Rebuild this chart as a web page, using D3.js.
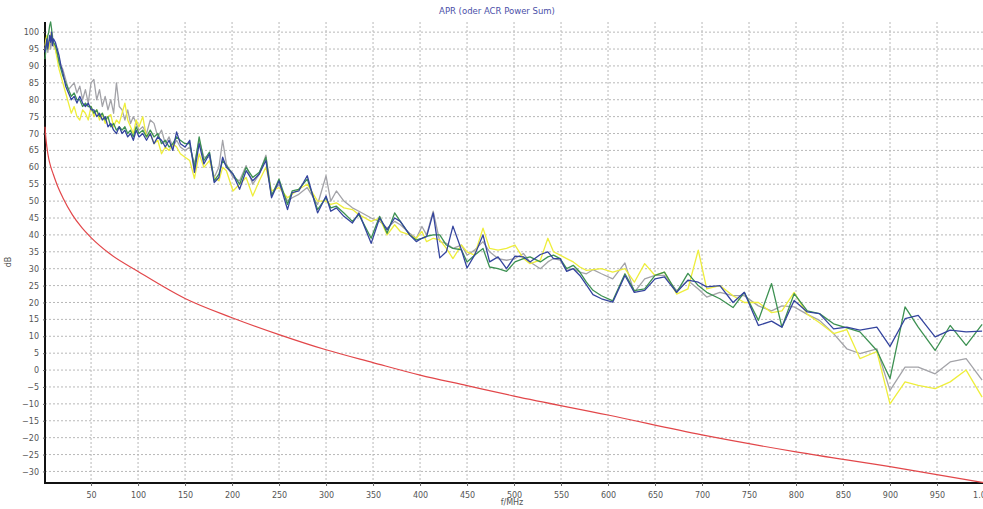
<!DOCTYPE html>
<html>
<head>
<meta charset="utf-8">
<script src="https://cdn.jsdelivr.net/npm/d3@7"></script>
<style>
  body { margin: 0; background: #fff; overflow: hidden; }
  text { font-family: "DejaVu Sans", Verdana, sans-serif; }
</style>
</head>
<body>
<svg id="chart" width="983" height="509"></svg>
<script>
// frequency points (MHz) shared by the four measured pairs
const freq = [1,2,3,4,5,6,7,8,9,10,
  12,14,16,18,20,23,26,29,32,35,38,41,44,47,50,53,56,59,62,65,68,71,74,77,80,83,86,89,92,95,98,101,
  105,109,113,117,121,125,129,133,137,141,145,150,
  155,160,165,170,176,181,186,190,194,201,208,215,222,229,236,242,250,259,264,271,
  280,291,300,305,311,319,328,335,348,357,365,373,379,389,396,402,407,414,421,428,
  435,444,450,458,467,474,483,492,501,510,517,528,536,542,549,556,563,570,577,584,
  593,605,618,628,639,650,660,673,685,696,705,719,733,745,760,774,785,798,812,825,
  840,854,868,886,900,916,930,948,964,981,998];

const grayVals = [95,97,96,94,96,98,95,97,99,96,
  95,93,92,90,89,86,83,84,85,82,84,80,83,79,85,86,80,83,78,81,77,80,76,85,78,77,74,77,73,75,73,71,
  72,70,74,73,69,71,67,69,66,68,66,65,
  66,61,68,63,63,57,60,68,61,57,56,60.5,55,58,63.6,52,55,50,51,52,
  54,49,57.5,50,53,50,48,47,45,44,42,44,43,40.5,39,42.5,40,47,38,37.5,
  36,37,34,35.5,38,35,33,32.5,33,34.5,32,30,32,33,32.5,29.5,30,29,28.5,29.7,
  28.5,27,31.7,23,27,28,28,23.5,26.5,24,21.6,23,22,22,19,17.5,19,18.7,16.5,14.7,
  10.8,6.3,4.9,6.3,-6,0.9,0.9,-1.1,2.4,3.4,-3];

const yellowVals = [96,98,99,97,95,97,99,100,98,97,
  95,92,89,87,85,82,79,76,78,75,74,77,76,74,78,75,77,74,76,73,75,75.6,72,74,73,76,79,74,72,70,74,72,
  75,69,70,67,68,64,66,65,67,66,64,63,
  62,56.7,64,60,62,57,56,60,59,53,55,57,51.5,56,60,53,54,51,52,53.5,
  55,50,50,49,49.5,48,47.5,46,44,45,40,43,41,40,39,41,38,39,38.5,36,
  33,37,35,34,42,36,35.5,36,37,33,31.5,32.5,39,35,34,33,32,30.5,29.5,29.7,
  30,29,30,26,31.5,28,29,22.5,24,35.5,24,25,22,20,20,17,17.5,23,16.5,14,
  10.8,12,3.4,5.5,-10,-3.5,-4.5,-5.5,-3.5,0,-8];

const greenVals = [92,95,97,99,100,102,103,101,98,97,
  96,94,91,89,87,85,83,81,82,80,80,78,79,78,78,76,77,75,76,74,75,72,73,71,72,71,72,70,71,69,72,70,
  71,69,71,69,70,67,68,66,67,69,68,67,
  67,60,69,62,64.5,56,58,62,60.5,58,55,60,57,58.5,63,51.5,56.5,49,53,53.5,
  56.5,47.5,51,48,48.5,46.5,44,46,39,45.5,40.5,46.5,44,40,38.5,39,39.6,40,40,37,
  36,35.6,32,34,36,30.5,30,29.2,32,33,33.5,32,33.5,34,33,30,31,29,26,23.6,
  22,20.5,28.5,23.5,24,28,29,23,28.6,25,23,21.1,18.5,23,14.7,25.6,12.7,22.6,17.5,16.7,
  13.7,12.5,11.3,5.8,-2.5,18.7,12.7,5.8,13.2,7.3,13.5];

const blueVals = [94,96,98,95,97,99,97,100,96,98,
  97,95,93,90,88,84,82,80,81,79,81,79,78,79,77,77,75,76,74,75,72,73,71,70,72,70,71,69,70,68,71,69,
  70,68,70,67,69,68,66,68,65,70.5,67,66,
  68,58.5,67,61,64,55.5,57,63,60,58,53.5,59,56,58,62,51,56,47.5,52.5,53,
  57.5,46.5,51.5,47,48,45.5,43.5,46.5,37.5,45,41.5,45,44,40,38,39,39.5,46.5,33.2,35,
  42.6,35.6,30.2,34,40,32,33.5,30,33.7,33.5,32,34.2,35,33,33,29.2,30,28,25.2,22.3,
  21.1,20.1,28,23,23.6,27,27.6,23,26.6,26,24.6,25,20,23,13.2,14.5,12.7,20.6,17.2,16.7,
  12.2,12.7,11.8,12.7,7,15.2,16.2,9.8,11.8,11.3,11.5];

// limit line
const limitFreq = [1,2,3,5,7,10,15,20,30,40,50,70,100,150,200,250,300,350,400,450,500,600,700,800,900,1000];
const limitVals = [72,68.5,66,62.5,60.3,57.8,54,51,46,42.2,39.2,34.4,29.2,21.2,15.5,10.5,6,2.2,-1.5,-4.6,-7.7,-13.3,-19.2,-24.2,-28.6,-33.3];

const xTicks = d3.range(50, 1001, 50);
const yTicks = d3.range(-30, 101, 5);

const svg = d3.select('#chart');
const x = d3.scaleLinear().domain([1, 1000]).range([45, 984]);
const y = d3.scaleLinear().domain([-33.3, 103]).range([482.6, 22]);

// grid
svg.append('g')
  .selectAll('line')
  .data(yTicks)
  .join('line')
  .attr('x1', 45).attr('x2', 983)
  .attr('y1', d => y(d)).attr('y2', d => y(d))
  .attr('stroke', '#b8b8b8')
  .attr('stroke-dasharray', '2,2');

svg.append('g')
  .selectAll('line')
  .data(xTicks)
  .join('line')
  .attr('x1', d => x(d)).attr('x2', d => x(d))
  .attr('y1', 22).attr('y2', 482)
  .attr('stroke', '#b8b8b8')
  .attr('stroke-dasharray', '2,2');

// axes
const xAxis = svg.append('g')
  .attr('transform', 'translate(0,483)')
  .call(d3.axisBottom(x).tickValues(xTicks).tickSize(3).tickPadding(6)
    .tickFormat(d => d === 1000 ? '1.000' : d));
xAxis.select('.domain').attr('stroke', '#111').attr('stroke-width', 2)
  .attr('d', 'M45,0H983');
xAxis.selectAll('.tick line').attr('stroke', '#666');
xAxis.selectAll('text').attr('fill', '#555').style('font-size', '8px');

const yAxis = svg.append('g')
  .attr('transform', 'translate(45,0)')
  .call(d3.axisLeft(y).tickValues(yTicks).tickSize(2).tickPadding(4));
yAxis.select('.domain').attr('stroke', '#111').attr('stroke-width', 2)
  .attr('d', 'M0,22V484');
yAxis.selectAll('.tick line').attr('stroke', '#666');
yAxis.selectAll('text').attr('fill', '#555').style('font-size', '8px');

// series
const line = d3.line()
  .x((d, i) => x(freq[i]))
  .y(d => y(d));

const series = [
  {vals: grayVals, color: '#a3a3a8'},
  {vals: yellowVals, color: '#eeee3c'},
  {vals: greenVals, color: '#3d9152'},
  {vals: blueVals, color: '#34449e'}
];

svg.append('g')
  .selectAll('path')
  .data(series)
  .join('path')
  .attr('d', s => line(s.vals))
  .attr('fill', 'none')
  .attr('stroke', s => s.color)
  .attr('stroke-width', 1.3)
  .attr('stroke-linejoin', 'round');

const limitLine = d3.line()
  .x((d, i) => x(limitFreq[i]))
  .y(d => y(d))
  .curve(d3.curveMonotoneX);

svg.append('path')
  .attr('d', limitLine(limitVals))
  .attr('fill', 'none')
  .attr('stroke', '#e2474a')
  .attr('stroke-width', 1.2);

// labels
svg.append('text')
  .attr('x', 497).attr('y', 14)
  .attr('text-anchor', 'middle')
  .attr('fill', '#4a4fa8')
  .style('font-size', '8.5px')
  .text('APR (oder ACR Power Sum)');

svg.append('text')
  .attr('x', 512).attr('y', 505)
  .attr('text-anchor', 'middle')
  .attr('fill', '#555')
  .style('font-size', '8px')
  .text('f/MHz');

svg.append('text')
  .attr('transform', 'translate(11,262) rotate(-90)')
  .attr('text-anchor', 'middle')
  .attr('fill', '#555')
  .style('font-size', '8px')
  .text('dB');
</script>
</body>
</html>
